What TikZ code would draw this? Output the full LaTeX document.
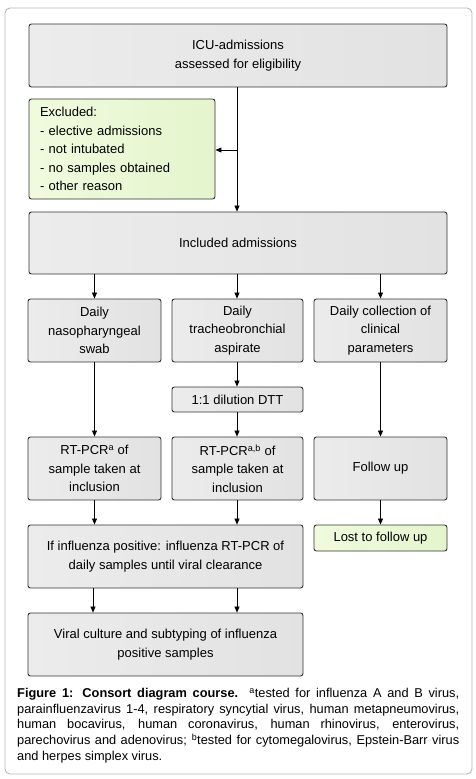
\documentclass[tikz,border=0pt]{standalone}
\usepackage{fontspec}
\setmainfont{Liberation Sans}
\usetikzlibrary{arrows.meta,calc}
\definecolor{boxl}{RGB}{236,236,236}
\definecolor{boxr}{RGB}{226,226,226}
\definecolor{greenl}{RGB}{240,251,222}
\definecolor{greenr}{RGB}{228,245,205}
\definecolor{edge}{RGB}{50,50,50}
\definecolor{frame}{RGB}{185,185,185}
\tikzset{
  box/.style={draw=edge, line width=0.9pt, rounded corners=2.5pt, left color=boxl, right color=boxr,
    align=center, inner sep=0pt, font=\fontsize{13}{18.5}\selectfont},
  gbox/.style={box, left color=greenl, right color=greenr},
  arr/.style={draw=black, line width=0.8pt, -{Triangle[length=6pt,width=5pt]}},
}
\begin{document}
\begin{tikzpicture}[x=1pt,y=-1pt]
\useasboundingbox (0,0) rectangle (476,779);
\draw[frame, line width=0.9pt, rounded corners=5pt] (5,8) rectangle (472,774);

\node[box, minimum width=418pt, minimum height=63pt] (icu) at (238,55.5) {ICU-admissions\\assessed for eligibility};
\node[gbox, minimum width=186pt, minimum height=100pt, text width=164pt, align=left] (excl) at (122,149)
  {Excluded:\\- elective admissions\\- not intubated\\- no samples obtained\\- other reason};
\node[box, minimum width=418pt, minimum height=62pt] (inc) at (238,243) {Included admissions};

\node[box, minimum width=133pt, minimum height=63pt] (d1) at (94.5,330.5) {Daily\\nasopharyngeal\\swab};
\node[box, minimum width=131pt, minimum height=63pt] (d2) at (237.5,330.5) {Daily\\tracheobronchial\\aspirate};
\node[box, minimum width=133pt, minimum height=63pt] (d3) at (380.5,330.5) {Daily collection of\\clinical\\parameters};

\node[box, minimum width=131pt, minimum height=25pt] (dtt) at (237.5,399.5) {1:1 dilution DTT};

\node[box, minimum width=133pt, minimum height=63pt] (r1) at (94.5,468.5) {RT-PCR\textsuperscript{a} of\\sample taken at\\inclusion};
\node[box, minimum width=131pt, minimum height=63pt] (r2) at (237.5,468.5) {RT-PCR\textsuperscript{a,b} of\\sample taken at\\inclusion};
\node[box, minimum width=133pt, minimum height=63pt] (r3) at (380.5,468.5) {Follow up};

\node[box, minimum width=275pt, minimum height=63pt] (ifb) at (165.5,556.5) {If influenza positive: influenza RT-PCR of\\daily samples until viral clearance};
\node[gbox, minimum width=133pt, minimum height=26pt] (lost) at (380.5,538) {Lost to follow up};
\node[box, minimum width=275pt, minimum height=63pt] (vir) at (165.5,644.5) {Viral culture and subtyping of influenza\\positive samples};

\coordinate (br) at (237,150);
\draw[arr] (icu.south -| br) -- (inc.north -| br);
\draw[arr] (br) -- (excl.east |- br);

\draw[arr] (inc.south -| d1) -- (d1.north);
\draw[arr] (inc.south -| br) -- (d2.north -| br);
\draw[arr] (inc.south -| d3) -- (d3.north);

\draw[arr] (d1.south) -- (r1.north);
\draw[arr] (d2.south -| br) -- (dtt.north -| br);
\draw[arr] (dtt.south -| br) -- (r2.north -| br);
\draw[arr] (d3.south) -- (r3.north);

\draw[arr] (r1.south) -- (ifb.north -| r1);
\draw[arr] (r2.south -| br) -- (ifb.north -| br);
\draw[arr] (r3.south) -- (lost.north);

\coordinate (lc) at (93,0);
\draw[arr] (ifb.south -| lc) -- (vir.north -| lc);
\draw[arr] (ifb.south -| br) -- (vir.north -| br);

\node[anchor=north west, inner sep=0pt, text width=442pt, align=justify,
  font=\fontsize{12.8}{15.7}\selectfont] (cap) at (17,688)
{\textbf{Figure 1: Consort diagram course.} \textsuperscript{a}tested for influenza A and B virus,\linebreak
parainfluenzavirus 1-4, respiratory syncytial virus, human metapneumovirus,\linebreak
human bocavirus, human coronavirus, human rhinovirus, enterovirus,\linebreak
parechovirus and adenovirus; \textsuperscript{b}tested for cytomegalovirus, Epstein-Barr virus\linebreak
and herpes simplex virus.};
\end{tikzpicture}
\end{document}
